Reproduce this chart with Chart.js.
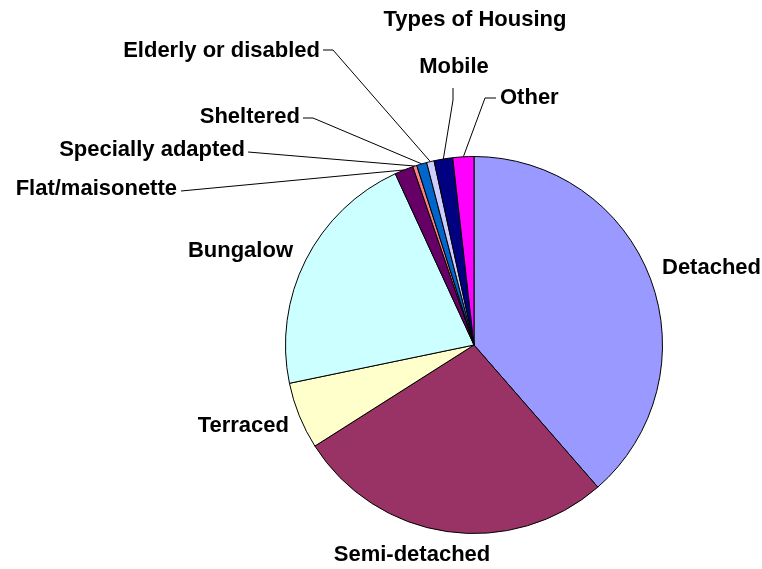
<!DOCTYPE html>
<html>
<head>
<meta charset="utf-8">
<script src="https://cdn.jsdelivr.net/npm/chart.js@4/dist/chart.umd.min.js"></script>
<style>
  html, body { margin: 0; padding: 0; background: #fff; }
  #wrap { width: 762px; height: 569px; }
</style>
</head>
<body>
<div id="wrap"><canvas id="housingChart" width="762" height="569"></canvas></div>
<script>
// Data (share of homes, %)
const housingTypes = ['Detached', 'Semi-detached', 'Terraced', 'Bungalow', 'Flat/maisonette',
    'Specially adapted', 'Sheltered', 'Elderly or disabled', 'Mobile', 'Other'];
const housingShare = [38.6, 27.4, 5.75, 21.4, 1.6, 0.35, 0.87, 0.64, 1.6, 1.8];
const sliceColours = ['#9999FF', '#993366', '#FFFFCC', '#CCFFFF', '#660066',
    '#FF8080', '#0066CC', '#CCCCFF', '#000080', '#FF00FF'];

// where each label sits: x, y, text alignment, and an optional elbow for the leader line
const labelSpots = [
    { x: 662, y: 268, align: 'left' },
    { x: 412, y: 555, align: 'center' },
    { x: 289, y: 426, align: 'right' },
    { x: 293, y: 251, align: 'right' },
    { x: 177, y: 189, align: 'right', from: [181, 191], elbow: null },
    { x: 245, y: 150, align: 'right', from: [248, 152], elbow: null },
    { x: 300, y: 117, align: 'right', from: [303, 118], elbow: [313, 118] },
    { x: 320, y: 51, align: 'right', from: [323, 50], elbow: [333, 50] },
    { x: 454, y: 67, align: 'center', from: [453, 88], elbow: [453, 100] },
    { x: 500, y: 98, align: 'left', from: [496, 98], elbow: [485, 98] }
];

const labelFont = 'bold 22px "Liberation Sans", Arial, sans-serif';

const pieLabels = {
    id: 'pieLabels',
    afterDraw(chart) {
        const ctx = chart.ctx;
        const arcs = chart.getDatasetMeta(0).data;
        ctx.save();
        // title
        ctx.fillStyle = '#000';
        ctx.font = labelFont;
        ctx.textAlign = 'center';
        ctx.textBaseline = 'middle';
        ctx.fillText('Types of Housing', 475, 20);

        // leader lines for the thin slices
        ctx.strokeStyle = '#000';
        ctx.lineWidth = 1;
        arcs.forEach((arc, i) => {
            const spot = labelSpots[i];
            if (!spot.from) return;
            const p = arc.getProps(['x', 'y', 'startAngle', 'endAngle', 'outerRadius'], true);
            const mid = (p.startAngle + p.endAngle) / 2;
            const ex = p.x + Math.cos(mid) * p.outerRadius;
            const ey = p.y + Math.sin(mid) * p.outerRadius;
            ctx.beginPath();
            ctx.moveTo(spot.from[0], spot.from[1]);
            if (spot.elbow) ctx.lineTo(spot.elbow[0], spot.elbow[1]);
            ctx.lineTo(ex, ey);
            ctx.stroke();
        });

        // slice labels
        housingTypes.forEach((name, i) => {
            const spot = labelSpots[i];
            ctx.textAlign = spot.align;
            ctx.fillText(name, spot.x, spot.y);
        });
        ctx.restore();
    }
};

const ctx = document.getElementById('housingChart').getContext('2d');
const housingChart = new Chart(ctx, {
    type: 'pie',
    data: {
        labels: housingTypes,
        datasets: [{
            data: housingShare,
            backgroundColor: sliceColours,
            borderColor: '#000',
            borderWidth: 1
        }]
    },
    options: {
        responsive: false,
        animation: false,
        layout: { padding: { left: 285, right: 99, top: 156, bottom: 35 } },
        plugins: {
            legend: { display: false },
            tooltip: { enabled: false },
            title: { display: false }
        }
    },
    plugins: [pieLabels]
});
</script>
</body>
</html>
